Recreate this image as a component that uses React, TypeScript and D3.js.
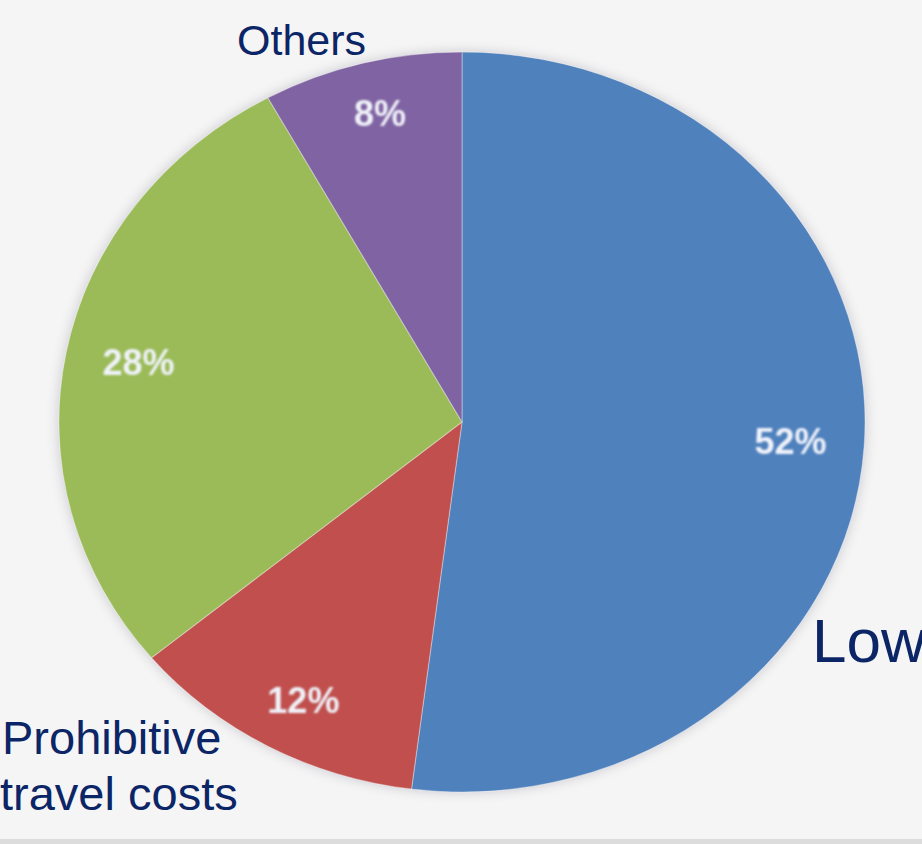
import { useEffect, useRef } from "react";
import * as d3 from "d3";

// slices in clockwise order from 12 o'clock
const categories = ["Low", "Prohibitive travel costs", "Other2", "Others"];
const values = [52, 12, 28, 8];
const colors = ["#4f81bd", "#c0504d", "#9bbb59", "#8064a2"];

const W = 922;
const H = 844;

export default function App() {
  const svgRef = useRef<SVGSVGElement>(null);

  useEffect(() => {
    if (!svgRef.current) return;
    const svg = d3.select(svgRef.current);
    svg.selectAll("*").remove();

    // pie geometry (the source pie is slightly stretched horizontally)
    const cx = 462;
    const cy = 422;
    const ry = 370;
    const rx = 403;
    const sx = rx / ry;

    // background
    svg.append("rect").attr("width", W).attr("height", H).attr("fill", "#f5f5f5");
    svg.append("rect").attr("y", H - 5).attr("width", W).attr("height", 5).attr("fill", "#dcdcdc");

    const defs = svg.append("defs");
    defs
      .append("filter")
      .attr("id", "soft")
      .append("feGaussianBlur")
      .attr("stdDeviation", 0.8);
    const glow = defs.append("filter").attr("id", "glow").attr("x", "-10%").attr("y", "-10%").attr("width", "120%").attr("height", "120%");
    glow.append("feGaussianBlur").attr("in", "SourceAlpha").attr("stdDeviation", 6).attr("result", "b");
    glow.append("feFlood").attr("flood-color", "#c8c8d0").attr("result", "c");
    glow.append("feComposite").attr("in", "c").attr("in2", "b").attr("operator", "in").attr("result", "s");
    const merge = glow.append("feMerge");
    merge.append("feMergeNode").attr("in", "s");
    merge.append("feMergeNode").attr("in", "SourceGraphic");

    const pie = d3
      .pie<number>()
      .sort(null)
      .value((d) => d);
    const arcs = pie(values);

    const arc = d3.arc<d3.PieArcDatum<number>>().innerRadius(0).outerRadius(ry);

    const g = svg
      .append("g")
      .attr("transform", `translate(${cx},${cy}) scale(${sx},1)`)
      .attr("filter", "url(#glow)");

    g.selectAll("path")
      .data(arcs)
      .enter()
      .append("path")
      .attr("d", arc)
      .attr("fill", (_d, i) => colors[i])
      .attr("stroke", "#ffffff")
      .attr("stroke-opacity", 0.35)
      .attr("stroke-width", 1);

    // percentage labels
    const labelArc = d3.arc<d3.PieArcDatum<number>>().innerRadius(ry * 0.86).outerRadius(ry * 0.86);
    svg
      .append("g")
      .attr("filter", "url(#soft)")
      .selectAll("text")
      .data(arcs)
      .enter()
      .append("text")
      .attr("x", (d) => cx + labelArc.centroid(d)[0] * sx * 0.95)
      .attr("y", (d) => cy + labelArc.centroid(d)[1])
      .attr("text-anchor", "middle")
      .attr("dominant-baseline", "central")
      .attr("fill", "#f0f3fa")
      .attr("font-family", "Liberation Sans, Arial, sans-serif")
      .attr("font-weight", "bold")
      .attr("font-size", 36)
      .text((d) => `${d.data}%`);

    // category names
    const navy = "#0b2566";
    const font = "Liberation Sans, Arial, sans-serif";
    svg
      .append("text")
      .attr("x", 237)
      .attr("y", 55)
      .attr("fill", navy)
      .attr("font-family", font)
      .attr("font-size", 43)
      .text(categories[3]);

    svg
      .append("text")
      .attr("x", 812)
      .attr("y", 662)
      .attr("fill", navy)
      .attr("font-family", font)
      .attr("font-size", 62)
      .text(categories[0]);

    const pt = svg
      .append("text")
      .attr("fill", navy)
      .attr("font-family", font)
      .attr("font-size", 47);
    pt.append("tspan").attr("x", 2).attr("y", 754).text("Prohibitive");
    pt.append("tspan").attr("x", 0).attr("y", 810).text("travel costs");
  }, []);

  return (
    <svg
      ref={svgRef}
      width={W}
      height={H}
      style={{ position: "absolute", left: 0, top: 0, display: "block" }}
    />
  );
}
